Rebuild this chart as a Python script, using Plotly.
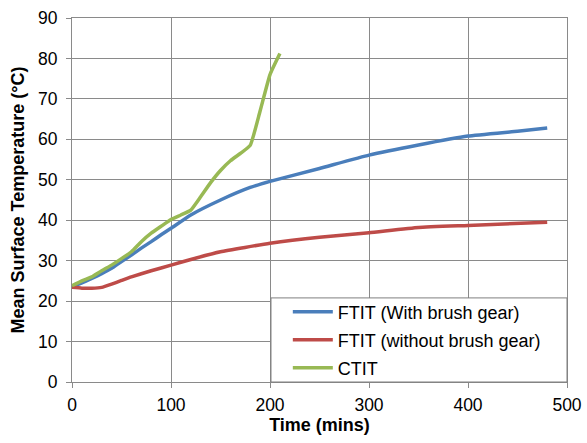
import plotly.graph_objects as go

# Mean surface temperature vs time for three test configurations
blue_t = [0, 10, 20, 30, 40, 50, 60, 70, 80, 90, 100, 120, 150, 180, 200, 250, 300, 350, 400, 450, 480]
blue_y = [23.6, 24.5, 25.6, 26.8, 28.1, 29.8, 31.4, 33.1, 34.7, 36.4, 38.0, 41.3, 45.0, 48.1, 49.6, 52.8, 56.1, 58.6, 60.8, 62.0, 62.8]

red_t = [0, 10, 20, 30, 40, 50, 60, 80, 100, 120, 150, 200, 250, 300, 350, 400, 480]
red_y = [23.4, 23.2, 23.2, 23.4, 24.2, 25.1, 26.0, 27.5, 28.9, 30.3, 32.2, 34.3, 35.8, 36.9, 38.2, 38.7, 39.5]

green_t = [0, 10, 20, 30, 40, 50, 60, 70, 80, 90, 100, 110, 120, 130, 140, 150, 160, 170, 180, 190, 200, 210]
green_y = [23.8, 25.0, 26.0, 27.5, 28.9, 30.5, 32.2, 34.7, 36.8, 38.5, 40.2, 41.3, 42.5, 45.8, 49.3, 52.3, 54.7, 56.5, 58.5, 67.0, 76.0, 81.2]

names = ["FTIT (With brush gear)", "FTIT (without brush gear)", "CTIT"]
colors = ["#4A7EBB", "#BE4B48", "#98B954"]

x_ticks = [0, 100, 200, 300, 400, 500]
y_ticks = [0, 10, 20, 30, 40, 50, 60, 70, 80, 90]

FONT = "Liberation Sans, Arial, sans-serif"
GRID = "#8a8a8a"

fig = go.Figure()
series = [(blue_t, blue_y), (red_t, red_y), (green_t, green_y)]
legend_ids = ["legend", "legend2", "legend3"]
for (t, y), name, col, lg in zip(series, names, colors, legend_ids):
    fig.add_trace(go.Scatter(
        x=t, y=y, mode="lines", name=name, legend=lg, showlegend=True,
        line=dict(color=col, width=3.5, shape="spline", smoothing=0.4),
    ))

# white legend panel in the lower-right corner of the plot area
fig.add_shape(type="rect", xref="paper", yref="paper",
              x0=0.402, x1=1.0, y0=0.0, y1=0.231,
              fillcolor="white", line=dict(color="#7f7f7f", width=1), layer="above")

legend_style = dict(
    xanchor="left", yanchor="middle", x=0.436,
    bgcolor="rgba(0,0,0,0)", borderwidth=0,
    font=dict(family=FONT, size=18, color="#000000"),
    itemwidth=40, visible=True,
)
fig.update_layout(
    showlegend=True,
    legend=dict(y=0.192, **legend_style),
    legend2=dict(y=0.115, **legend_style),
    legend3=dict(y=0.0385, **legend_style),
)

fig.update_xaxes(
    range=[0, 500], tickvals=x_ticks, ticks="outside", ticklen=5, tickcolor=GRID,
    showgrid=True, gridcolor=GRID, gridwidth=1, automargin=False,
    showline=True, linecolor=GRID, linewidth=1, mirror=True, zeroline=False,
    tickfont=dict(family=FONT, size=17.5, color="#000000"), ticklabelstandoff=2,
    title=dict(text="<b>Time (mins)</b>", font=dict(family=FONT, size=18, color="#000000"), standoff=3),
)
fig.update_yaxes(
    range=[0, 90], tickvals=y_ticks, ticks="outside", ticklen=5, tickcolor=GRID,
    showgrid=True, gridcolor=GRID, gridwidth=1, automargin=False,
    showline=True, linecolor=GRID, linewidth=1, mirror=True, zeroline=False,
    tickfont=dict(family=FONT, size=17.5, color="#000000"), ticklabelstandoff=5,
    title=dict(text="<b>Mean Surface Temperature (°C)</b>", font=dict(family=FONT, size=18, color="#000000"), standoff=8),
)

fig.update_layout(
    width=587, height=443,
    margin=dict(l=72, r=20, t=18, b=61, autoexpand=False),
    paper_bgcolor="white", plot_bgcolor="white",
    font=dict(family=FONT, color="#000000"),
)

fig.write_html("out.html")
